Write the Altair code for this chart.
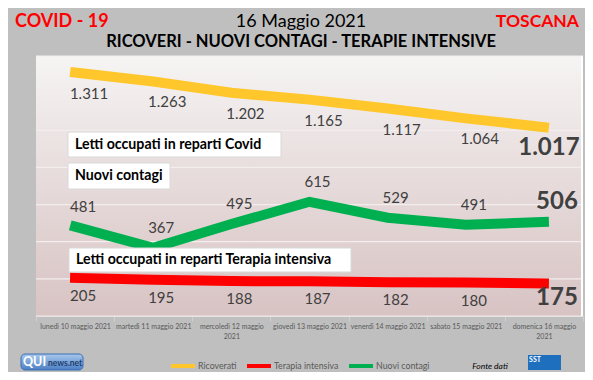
import altair as alt
import pandas as pd

days = ["lunedì 10 maggio 2021", "martedì 11 maggio 2021", "mercoledì 12 maggio 2021",
        "giovedì 13 maggio 2021", "venerdì 14 maggio 2021", "sabato 15 maggio 2021",
        "domenica 16 maggio 2021"]
ricoverati = [1311, 1263, 1202, 1165, 1117, 1064, 1017]
terapia = [205, 195, 188, 187, 182, 180, 175]
contagi = [481, 367, 495, 615, 529, 491, 506]
series_names = ["Ricoverati", "Terapia intensiva", "Nuovi contagi"]
series_colors = ["#FFC72C", "#FF0000", "#00B050"]
y_ticks = [0, 200, 400, 600, 800, 1000, 1200, 1400]

rows = []
for name, vals in zip(series_names, [ricoverati, terapia, contagi]):
    for i, (d, v) in enumerate(zip(days, vals)):
        rows.append({"day": d, "serie": name, "valore": v,
                     "etichetta": f"{v:,}".replace(",", "."),
                     "ultimo": i == len(days) - 1})
df = pd.DataFrame(rows)
grid_df = pd.DataFrame({"valore": y_ticks})

W, H = 547, 260
FONT = "Lato"
LBL = "#404040"

yscale = alt.Scale(domain=[0, 1400], nice=False, zero=True)
xenc = alt.X("day:N", sort=days,
             scale=alt.Scale(type="band", paddingInner=0, paddingOuter=0),
             axis=alt.Axis(title=None, labelAngle=0, labelFontSize=7, labelColor="#595959",
                           labelFont=FONT, labelLineHeight=10, labelPadding=1,
                           labelExpr="length(datum.label) > 22 ? [substring(datum.label, 0, length(datum.label)-5), '2021'] : datum.label",
                           tickBand="extent", tickSize=5, tickColor="#D0D0D0",
                           domainColor="#D9D9D9", grid=False, labelLimit=90))
yenc = alt.Y("valore:Q", scale=yscale,
             axis=alt.Axis(title=None, values=y_ticks, labelFontSize=8.5, labelColor="#8C8C8C",
                           labelFont=FONT, labelPadding=9, tickSize=0, domain=False, grid=False,
                           labelExpr="replace(format(datum.value, ','), ',', '.')"))

one = alt.Data(values=[{"a": 1}])

bg = alt.Chart(one).mark_rect(
    fill=alt.LinearGradient(gradient="linear", x1=0, x2=0, y1=0, y2=1,
                            stops=[alt.GradientStop(color="#F6F4F4", offset=0),
                                   alt.GradientStop(color="#E6DADA", offset=0.5),
                                   alt.GradientStop(color="#D8C3C3", offset=1)])
).encode(x=alt.value(0), x2=alt.value(W), y=alt.value(0), y2=alt.value(H))

grid = alt.Chart(grid_df).mark_rule(color="#F3EDED", strokeWidth=1.2).encode(
    y=alt.Y("valore:Q", scale=yscale, axis=None), x=alt.value(0), x2=alt.value(W))

base = alt.Chart(df)

lines = base.mark_line(strokeWidth=10, strokeCap="square").encode(
    x=xenc, y=yenc,
    color=alt.Color("serie:N", scale=alt.Scale(domain=series_names, range=series_colors),
                    legend=alt.Legend(title=None, orient="none", legendX=133, legendY=296,
                                      direction="horizontal", symbolType="stroke",
                                      symbolSize=576, symbolStrokeWidth=4,
                                      labelFont=FONT, labelFontSize=8.8, labelColor="#595959",
                                      labelOffset=1, columnPadding=2)),
    detail="serie:N",
)

def labels(name, dx, dy):
    return base.transform_filter(
        (alt.datum.serie == name) & (alt.datum.ultimo == False)
    ).mark_text(dx=dx, dy=dy, fontSize=15, font=FONT, color=LBL).encode(
        x=alt.X("day:N", sort=days), y="valore:Q", text="etichetta:N")

def last_label(name, dx, dy):
    return base.transform_filter(
        (alt.datum.serie == name) & (alt.datum.ultimo == True)
    ).mark_text(dx=dx, dy=dy, fontSize=24, fontWeight="bold", font=FONT, color=LBL).encode(
        x=alt.X("day:N", sort=days), y="valore:Q", text="etichetta:N")

def box(x1, x2, y1, y2, text):
    r = alt.Chart(one).mark_rect(fill="white", stroke="#D9D9D9", strokeWidth=1).encode(
        x=alt.value(x1), x2=alt.value(x2), y=alt.value(y1), y2=alt.value(y2))
    t = alt.Chart(one).mark_text(align="left", baseline="middle", fontSize=14.2,
                                 fontWeight="bold", font=FONT, color="black").encode(
        x=alt.value(x1 + 7), y=alt.value((y1 + y2) / 2), text=alt.value(text))
    return r + t

def txt(x, y, text, size, color="black", weight="normal", align="center", style="normal",
        baseline="middle"):
    return alt.Chart(one).mark_text(align=align, baseline=baseline, fontSize=size,
                                    fontWeight=weight, font=FONT, color=color,
                                    fontStyle=style).encode(
        x=alt.value(x), y=alt.value(y), text=alt.value(text))

right_edge = alt.Chart(one).mark_rule(color="white", strokeWidth=2).encode(
    x=alt.value(W - 1), y=alt.value(0), y2=alt.value(H))

qui_logo = alt.Chart(one).mark_rect(
    cornerRadius=4, stroke="#3A6FB0", strokeWidth=1,
    fill=alt.LinearGradient(gradient="linear", x1=0, x2=0, y1=0, y2=1,
                            stops=[alt.GradientStop(color="#A9C8EE", offset=0),
                                   alt.GradientStop(color="#4A7FC4", offset=1)])
).encode(x=alt.value(-15), x2=alt.value(47), y=alt.value(298), y2=alt.value(314))
qui_text1 = txt(-13, 306, "QUI", 12.5, color="white", weight="bold", align="left")
qui_text2 = txt(12, 307, "news.net", 8.5, color="#1F3F70", weight="bold", align="left")
sst_logo = alt.Chart(one).mark_rect(fill="#1F6FBF").encode(
    x=alt.value(492), x2=alt.value(525), y=alt.value(299), y2=alt.value(314))
sst_text = txt(499, 304, "SST", 7, color="white", weight="bold")

chart = alt.layer(
    bg, grid,
    lines,
    labels("Ricoverati", 14, 21), last_label("Ricoverati", 5, 21),
    labels("Nuovi contagi", 8, -20), last_label("Nuovi contagi", 13, -20),
    labels("Terapia intensiva", 8, 18), last_label("Terapia intensiva", 13, 14),
    box(32, 245, 76, 101, "Letti occupati in reparti Covid"),
    box(32, 134, 107, 133, "Nuovi contagi"),
    box(33, 315, 192, 216, "Letti occupati in reparti Terapia intensiva"),
    right_edge,
    txt(-21, -29, "COVID - 19", 18, color="#FF0000", weight="bold", align="left",
        baseline="alphabetic"),
    txt(265, -29.5, "16 Maggio 2021", 18, baseline="alphabetic"),
    txt(265, -9, "RICOVERI - NUOVI CONTAGI - TERAPIE INTENSIVE", 16.5, weight="bold",
        baseline="alphabetic"),
    txt(543, -29, "TOSCANA", 17.5, color="#FF0000", weight="bold", align="right",
        baseline="alphabetic"),
    txt(454, 310, "Fonte dati", 8.5, style="italic"),
    qui_logo, qui_text1, qui_text2, sst_logo, sst_text,
).properties(
    width=W, height=H,
    autosize=alt.AutoSizeParams(type="none"),
    padding={"left": 28, "top": 48, "right": 2, "bottom": 56},
    background="#BFBFBF",
).configure_view(stroke=None)

chart.save("out.html", embed_options={"renderer": "svg", "actions": False})
